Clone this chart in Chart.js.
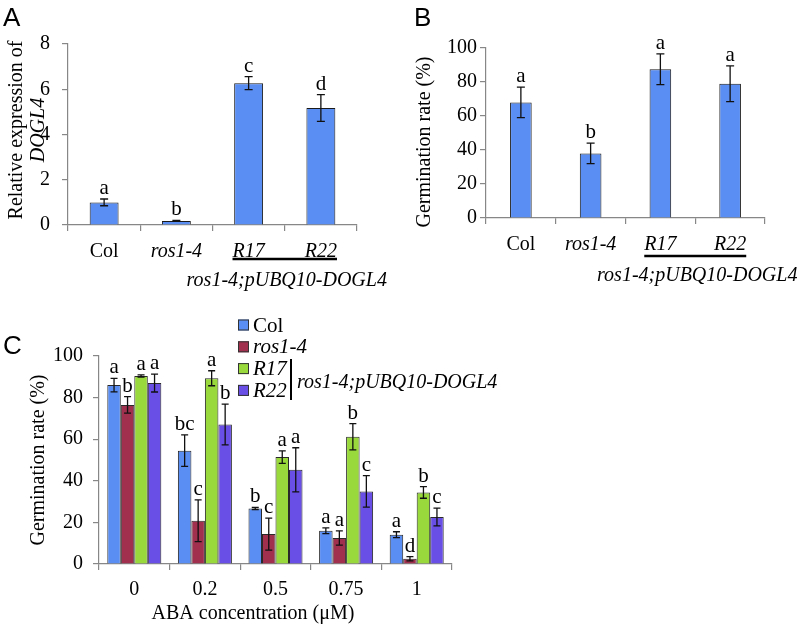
<!DOCTYPE html>
<html>
<head>
<meta charset="utf-8">
<script src="https://cdn.jsdelivr.net/npm/chart.js@4.4.1/dist/chart.umd.min.js"></script>
<style>
  body { margin: 0; background: #fff; }
  #page { position: relative; width: 800px; height: 625px; overflow: hidden; }
  canvas { position: absolute; }
  .panel { position: absolute; font-family: "Liberation Sans", Arial, sans-serif; font-size: 26px; color: #000; }
</style>
</head>
<body>
<div id="page">
  <canvas id="chartA" width="400" height="300" style="left:0;top:0"></canvas>
  <canvas id="chartB" width="400" height="300" style="left:400px;top:0"></canvas>
  <canvas id="chartC" width="800" height="325" style="left:0;top:300px"></canvas>
  <div class="panel" style="left:3px;top:2px">A</div>
  <div class="panel" style="left:414px;top:2px">B</div>
  <div class="panel" style="left:3px;top:330px">C</div>
</div>
<script>
// values
var lines = ['Col', 'ros1-4', 'R17', 'R22'];
var groupNote = 'ros1-4;pUBQ10-DOGL4';

var expression = [1.0, 0.18, 6.27, 5.17];
var expressionErr = [0.15, 0.02, 0.29, 0.59];
var expressionLetters = ['a', 'b', 'c', 'd'];

var germination = [68, 38, 87.5, 79];
var germinationErr = [9, 6, 9, 10.5];
var germinationLetters = ['a', 'b', 'a', 'a'];

var abaLevels = ['0', '0.2', '0.5', '0.75', '1'];
var abaCol = [86, 54.5, 26.7, 16, 14.1];
var abaColErr = [3.2, 7.6, 0.5, 1.4, 1.4];
var abaColLetters = ['a', 'bc', 'b', 'a', 'a'];
var abaRos = [76.5, 20.8, 14.4, 12.5, 2.5];
var abaRosErr = [4, 10, 7.7, 3.4, 1];
var abaRosLetters = ['b', 'c', 'c', 'a', 'd'];
var abaR17 = [90.4, 89.3, 51.4, 61.2, 34.4];
var abaR17Err = [0.5, 3.6, 3, 6.3, 2.8];
var abaR17Letters = ['a', 'a', 'a', 'b', 'b'];
var abaR22 = [87, 67.1, 45.3, 34.9, 22.6];
var abaR22Err = [4.3, 9.8, 10.6, 7.6, 4.3];
var abaR22Letters = ['a', 'b', 'a', 'c', 'c'];

var serif = '"Liberation Serif", "Times New Roman", serif';
var axisGray = '#878787';
var colBlue = '#5b8ef2', rosRed = '#a0304e', r17Green = '#99d93b', r22Purple = '#6a4fe6';

Chart.defaults.font.family = serif;
Chart.defaults.font.size = 20;
Chart.defaults.color = '#000';

function vText(ctx, text, x, y, font) {
  ctx.save();
  ctx.translate(x, y);
  ctx.rotate(-Math.PI / 2);
  ctx.font = font;
  ctx.textAlign = 'center';
  ctx.textBaseline = 'middle';
  ctx.fillStyle = '#000';
  ctx.fillText(text, 0, 0);
  ctx.restore();
}

// error bars and significance letters, from dataset.errors / dataset.letters
var errorBars = {
  id: 'errorBars',
  afterDatasetsDraw: function(chart, args, opts) {
    var ctx = chart.ctx, y = chart.scales.y;
    chart.data.datasets.forEach(function(ds, di) {
      chart.getDatasetMeta(di).data.forEach(function(bar, i) {
        var v = ds.data[i], e = ds.errors[i];
        var top = y.getPixelForValue(v + e), bot = y.getPixelForValue(v - e);
        ctx.save();
        ctx.strokeStyle = '#111';
        ctx.lineWidth = 1.3;
        ctx.beginPath();
        ctx.moveTo(bar.x, top); ctx.lineTo(bar.x, bot);
        ctx.moveTo(bar.x - opts.cap, top); ctx.lineTo(bar.x + opts.cap, top);
        ctx.moveTo(bar.x - opts.cap, bot); ctx.lineTo(bar.x + opts.cap, bot);
        ctx.stroke();
        ctx.font = '21px ' + serif;
        ctx.fillStyle = '#000';
        ctx.textAlign = 'center';
        ctx.textBaseline = 'alphabetic';
        ctx.fillText(ds.letters[i], bar.x, top - 5);
        ctx.restore();
      });
    });
  }
};

// underline under R17/R22 with the transgenic line name
var groupLabel = {
  id: 'groupLabel',
  afterDraw: function(chart, args, opts) {
    var ctx = chart.ctx, x = chart.scales.x, bottom = chart.chartArea.bottom;
    ctx.save();
    ctx.font = 'italic 20px ' + serif;
    var a = x.getPixelForValue(2) - ctx.measureText(lines[2]).width / 2;
    var b = x.getPixelForValue(3) + ctx.measureText(lines[3]).width / 2;
    ctx.strokeStyle = '#000';
    ctx.lineWidth = 2.5;
    ctx.beginPath();
    ctx.moveTo(a, bottom + opts.lineOffset); ctx.lineTo(b, bottom + opts.lineOffset);
    ctx.stroke();
    ctx.fillStyle = '#000';
    ctx.textAlign = 'center';
    ctx.textBaseline = 'middle';
    ctx.fillText(groupNote, (a + b) / 2 + 2, bottom + opts.textOffset);
    if (opts.title) {
      opts.title.forEach(function(t) { vText(ctx, t.text, t.x, t.y, t.font); });
    }
    ctx.restore();
  }
};

function lineTickFont(c) {
  return { family: serif, size: 20, style: c.index === 0 ? 'normal' : 'italic' };
}

function axes(yMax, yStep, yWidth, yPad, xHeight, xPad, xFont) {
  return {
    x: {
      grid: { offset: true, drawOnChartArea: false, tickLength: 6, color: axisGray, lineWidth: 1.2 },
      border: { color: axisGray, width: 1.2 },
      ticks: { color: '#000', padding: xPad, font: xFont },
      afterFit: function(s) { s.height = xHeight; }
    },
    y: {
      min: 0, max: yMax,
      grid: { drawOnChartArea: false, tickLength: 6, color: axisGray, lineWidth: 1.2 },
      border: { color: axisGray, width: 1.2 },
      ticks: { stepSize: yStep, color: '#000', padding: yPad, font: { size: 20 } },
      afterFit: function(s) { s.width = yWidth; }
    }
  };
}

new Chart(document.getElementById('chartA'), {
  type: 'bar',
  data: {
    labels: lines,
    datasets: [{
      data: expression, errors: expressionErr, letters: expressionLetters,
      backgroundColor: colBlue, borderColor: '#1a1a1a', borderWidth: 1,
      barPercentage: 0.4, categoryPercentage: 1
    }]
  },
  options: {
    responsive: false, animation: false,
    layout: { padding: { top: 44, right: 43, left: 0, bottom: 0 } },
    plugins: {
      legend: { display: false }, tooltip: { enabled: false },
      errorBars: { cap: 4 },
      groupLabel: {
        lineOffset: 34, textOffset: 56,
        title: [
          { text: 'Relative expression of', x: 17, y: 130, font: '20px ' + serif },
          { text: 'DOGL4', x: 39, y: 130, font: 'italic 20px ' + serif }
        ]
      }
    },
    scales: axes(8, 2, 68, 12, 75, 9, lineTickFont)
  },
  plugins: [errorBars, groupLabel]
});

new Chart(document.getElementById('chartB'), {
  type: 'bar',
  data: {
    labels: lines,
    datasets: [{
      data: germination, errors: germinationErr, letters: germinationLetters,
      backgroundColor: colBlue, borderColor: '#1a1a1a', borderWidth: 1,
      barPercentage: 0.31, categoryPercentage: 1
    }]
  },
  options: {
    responsive: false, animation: false,
    layout: { padding: { top: 48, right: 35, left: 0, bottom: 0 } },
    plugins: {
      legend: { display: false }, tooltip: { enabled: false },
      errorBars: { cap: 4 },
      groupLabel: {
        lineOffset: 38, textOffset: 58,
        title: [{ text: 'Germination rate (%)', x: 25, y: 142, font: '20px ' + serif }]
      }
    },
    scales: axes(100, 20, 86, 3, 82, 9, lineTickFont)
  },
  plugins: [errorBars, groupLabel]
});

// legend + axis titles for panel C
var legendC = {
  id: 'legendC',
  afterDraw: function(chart) {
    var ctx = chart.ctx;
    ctx.save();
    chart.data.datasets.forEach(function(ds, i) {
      var yc = 25 + i * 21.8;
      ctx.fillStyle = ds.backgroundColor;
      ctx.fillRect(238, yc - 5.5, 11, 11);
      ctx.strokeStyle = '#333';
      ctx.lineWidth = 1;
      ctx.strokeRect(238.5, yc - 5, 10, 10);
      ctx.fillStyle = '#000';
      ctx.font = (i === 0 ? '' : 'italic ') + '21px ' + serif;
      ctx.textAlign = 'left';
      ctx.textBaseline = 'middle';
      ctx.fillText(ds.label, 253, yc + 1);
    });
    ctx.strokeStyle = '#000';
    ctx.lineWidth = 2;
    ctx.beginPath();
    ctx.moveTo(291, 59); ctx.lineTo(291, 100);
    ctx.stroke();
    ctx.font = 'italic 20px ' + serif;
    ctx.fillText(groupNote, 297, 83);
    vText(ctx, 'Germination rate (%)', 39, 160, '20px ' + serif);
    ctx.font = '20px ' + serif;
    ctx.textAlign = 'center';
    ctx.fillText('ABA concentration (\u03bcM)', 253, 314);
    ctx.restore();
  }
};

function abaSet(label, data, err, letters, color) {
  return {
    label: label, data: data, errors: err, letters: letters,
    backgroundColor: color, borderColor: '#2a2a2a', borderWidth: 1,
    barPercentage: 1, categoryPercentage: 0.765
  };
}

new Chart(document.getElementById('chartC'), {
  type: 'bar',
  data: {
    labels: abaLevels,
    datasets: [
      abaSet(lines[0], abaCol, abaColErr, abaColLetters, colBlue),
      abaSet(lines[1], abaRos, abaRosErr, abaRosLetters, rosRed),
      abaSet(lines[2], abaR17, abaR17Err, abaR17Letters, r17Green),
      abaSet(lines[3], abaR22, abaR22Err, abaR22Letters, r22Purple)
    ]
  },
  options: {
    responsive: false, animation: false,
    layout: { padding: { top: 56, right: 348, left: 0, bottom: 0 } },
    plugins: {
      legend: { display: false }, tooltip: { enabled: false },
      errorBars: { cap: 3.5 }
    },
    scales: axes(100, 20, 99, 10, 61, 8, { size: 20 })
  },
  plugins: [errorBars, legendC]
});
</script>
</body>
</html>
